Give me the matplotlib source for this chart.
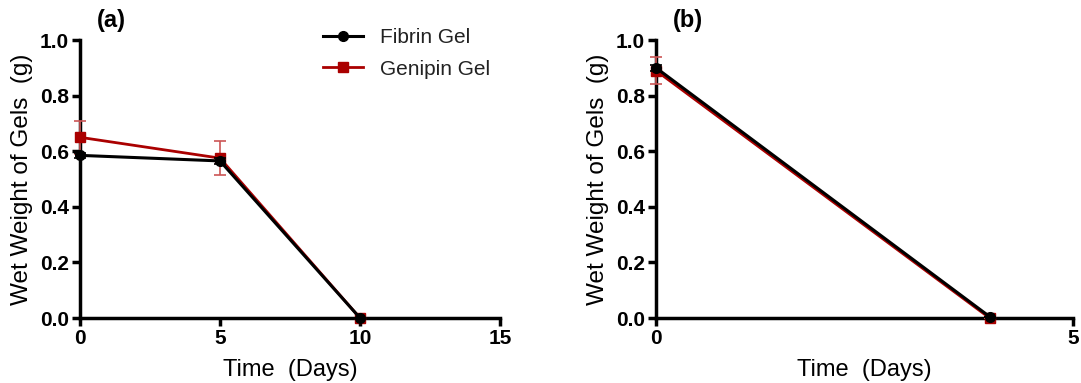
import matplotlib.pyplot as plt
from matplotlib.lines import Line2D

plt.rcParams['font.family'] = ['Liberation Sans', 'DejaVu Sans']

# panel (a)
days_a = [0, 5, 10]
fibrin_a = [0.585, 0.565, 0.0]
fibrin_a_err = [0.01, 0.01, 0.0]
genipin_a = [0.65, 0.575, 0.0]
genipin_a_err = [0.06, 0.06, 0.0]

# panel (b)
days_b = [0, 4]
fibrin_b = [0.90, 0.005]
fibrin_b_err = [0.01, 0.0]
genipin_b = [0.89, 0.0]
genipin_b_err = [0.05, 0.0]

red = '#aa0000'


def draw(ax, x, fib, fib_err, gen, gen_err, xmax, xticks, tag, legend=False):
    ax.errorbar(x, gen, yerr=gen_err, color=red, marker='s', markersize=7,
                linewidth=2, ecolor='#cc5555', elinewidth=1.2, capsize=4,
                capthick=1.2, clip_on=False, zorder=3)
    ax.errorbar(x, fib, yerr=fib_err, color='black', marker='o', markersize=7,
                linewidth=2.2, elinewidth=1.2, capsize=4, capthick=1.2,
                clip_on=False, zorder=4)
    ax.set_xlim(0, xmax)
    ax.set_ylim(0, 1.0)
    ax.set_xticks(xticks)
    ax.set_yticks([0.0, 0.2, 0.4, 0.6, 0.8, 1.0])
    ax.set_yticklabels(['0.0', '0.2', '0.4', '0.6', '0.8', '1.0'])
    for s in ['top', 'right']:
        ax.spines[s].set_visible(False)
    for s in ['left', 'bottom']:
        ax.spines[s].set_linewidth(2.5)
    ax.tick_params(direction='out', width=2.5, length=6, labelsize=15, pad=2)
    for lab in ax.get_xticklabels() + ax.get_yticklabels():
        lab.set_fontweight('bold')
    ax.set_xlabel('Time  (Days)', fontsize=17, labelpad=8)
    ax.set_ylabel('Wet Weight of Gels  (g)', fontsize=17.5, labelpad=5)
    ax.text(0.04, 1.03, tag, transform=ax.transAxes, fontsize=17,
            fontweight='bold', ha='left', va='bottom')
    if legend:
        h = [Line2D([], [], color='black', marker='o', markersize=7, linewidth=2.2),
             Line2D([], [], color=red, marker='s', markersize=7, linewidth=2)]
        ax.legend(h, ['Fibrin Gel', 'Genipin Gel'], loc='upper right',
                  bbox_to_anchor=(1.02, 1.11), frameon=False, fontsize=15,
                  handlelength=1.9, labelspacing=0.6, labelcolor='#222222')


fig = plt.figure(figsize=(10.81, 3.83), dpi=100)
ax1 = fig.add_axes([80 / 1081, 65 / 383, 420 / 1081, 278 / 383])
ax2 = fig.add_axes([656 / 1081, 65 / 383, 417 / 1081, 278 / 383])

draw(ax1, days_a, fibrin_a, fibrin_a_err, genipin_a, genipin_a_err, 15, [0, 5, 10, 15], '(a)', legend=True)
draw(ax2, days_b, fibrin_b, fibrin_b_err, genipin_b, genipin_b_err, 5, [0, 5], '(b)')

fig.savefig('out.png', dpi=100)
